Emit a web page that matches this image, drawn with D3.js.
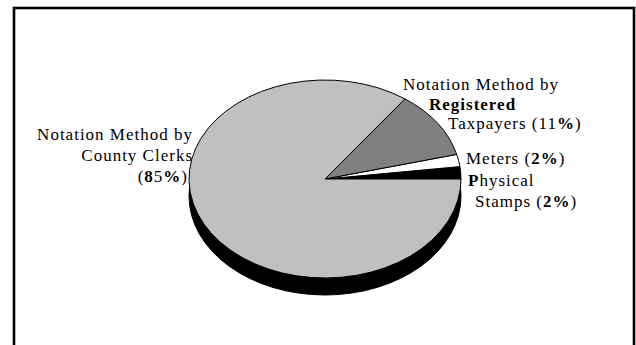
<!DOCTYPE html>
<html><head><meta charset="utf-8">
<script src="https://cdn.jsdelivr.net/npm/d3@7"></script>
<style>html,body{margin:0;padding:0;background:#fff;} svg{display:block;} text{font-family:"Liberation Serif";}</style>
</head><body>
<svg id="chart" width="636" height="345"></svg>
<script>
// ---- data ----
const categories = ["Physical Stamps", "Meters", "Notation Method by Registered Taxpayers", "Notation Method by County Clerks"];
const values = [2, 2, 11, 85];
const sliceColors = ["#000000", "#ffffff", "#808080", "#c0c0c0"];
// label lines; text between * is bold
const labelPhysical = ["*P*hysical", "Stamps (*2%*)"];
const labelMeters = ["Meters (*2%*)"];
const labelTaxpayers = ["Notation Method by", "*Registered*", "Taxpayers (11*%*)"];
const labelClerks = ["Notation Method by", "County Clerks", "(*8*5*%*)"];

// ---- layout ----
const cx = 325, cy = 179, rx = 136, ry = 99, depth = 17;
const svg = d3.select("#chart");

svg.append("rect").attr("x", 14).attr("y", 8).attr("width", 620).attr("height", 400)
  .attr("fill", "none").attr("stroke", "#000").attr("stroke-width", 2.6);

// side (extrusion)
svg.append("ellipse").attr("cx", cx).attr("cy", cy + depth).attr("rx", rx).attr("ry", ry)
  .attr("fill", "#000").attr("stroke", "#000");
svg.append("rect").attr("x", cx - rx).attr("y", cy).attr("width", 2 * rx).attr("height", depth)
  .attr("fill", "#000");

const pie = d3.pie().sort(null).value(d => d)
  .startAngle(Math.PI / 2).endAngle(Math.PI / 2 - 2 * Math.PI);
const arc = d3.arc().innerRadius(0).outerRadius(rx);
const face = svg.append("g").attr("transform", `translate(${cx},${cy}) scale(1,${ry / rx})`);
face.selectAll("path").data(pie(values)).join("path")
  .attr("d", arc)
  .attr("fill", (d, i) => sliceColors[i])
  .attr("stroke", "#000").attr("stroke-width", 1)
  .attr("vector-effect", "non-scaling-stroke")
  .append("title").text((d, i) => categories[i]);

function addLabel(lines, x, ys, anchor) {
  lines.forEach((line, k) => {
    const t = svg.append("text").attr("x", x[k]).attr("y", ys[k])
      .attr("text-anchor", anchor).attr("dominant-baseline", "central")
      .attr("font-size", 17).attr("letter-spacing", 1.0).attr("fill", "#000");
    line.split("*").forEach((seg, j) => {
      if (seg.length) t.append("tspan").attr("font-weight", j % 2 ? "bold" : "normal").text(seg);
    });
  });
}
addLabel(labelClerks, [193, 193, 188], [134, 155, 176], "end");
addLabel(labelTaxpayers, [403, 429, 448], [84, 104, 123], "start");
addLabel(labelMeters, [466], [158], "start");
addLabel(labelPhysical, [468, 475], [180, 201], "start");
</script>
</body></html>
